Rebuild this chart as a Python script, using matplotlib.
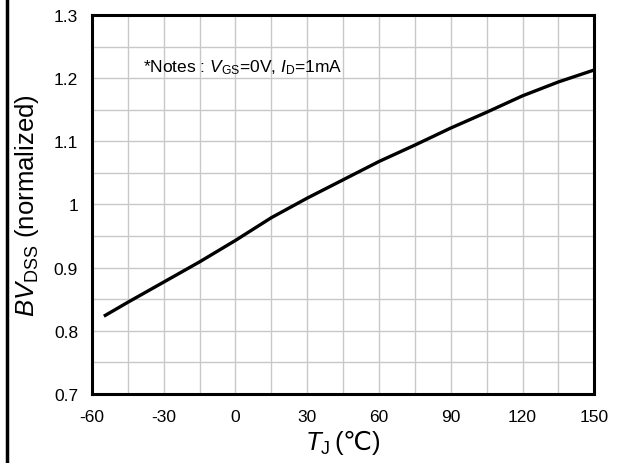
import matplotlib as mpl
import matplotlib.pyplot as plt
from matplotlib.lines import Line2D
from matplotlib.ticker import MultipleLocator, FormatStrFormatter
import numpy as np

# BVdss normalizado frente a temperatura de union
tj = [-55, -45, -30, -15, 0, 15, 30, 45, 60, 75, 90, 105, 120, 135, 150]
bv = [0.823, 0.845, 0.877, 0.909, 0.943, 0.979, 1.010, 1.039, 1.068,
      1.094, 1.121, 1.146, 1.172, 1.194, 1.213]

xticks = [-60, -30, 0, 30, 60, 90, 120, 150]
yticks = [0.7, 0.8, 0.9, 1.0, 1.1, 1.2, 1.3]

params = {'font.family': ['Liberation Sans', 'DejaVu Sans'],
          'mathtext.fontset': 'custom',
          'mathtext.rm': 'Liberation Sans',
          'mathtext.it': 'Liberation Sans:italic',
          'mathtext.sf': 'DejaVu Sans',  # para el simbolo de grados
          'axes.unicode_minus': False,
          'xtick.labelsize': 12.5, 'ytick.labelsize': 12.5}
mpl.rcParams.update(params)

fig = plt.figure(figsize=(6.21, 4.64), dpi=100)
ax = fig.add_axes((0.148, 0.149, 0.957 - 0.148, 0.9655 - 0.149))

ax.plot(tj, bv, '-', color='black', linewidth=2.4, solid_capstyle='butt', zorder=3)

ax.set_xlim(-60, 150)
ax.set_ylim(0.7, 1.3)
ax.set_xticks(xticks)
ax.set_yticks(yticks)
ax.xaxis.set_minor_locator(MultipleLocator(15))
ax.yaxis.set_minor_locator(MultipleLocator(0.05))
ax.yaxis.set_major_formatter(FormatStrFormatter('%g'))
ax.grid(which='both', color='#c8c8c8', linewidth=1.0)
ax.set_axisbelow(True)
ax.tick_params(which='both', length=0)
ax.tick_params(axis='x', pad=11)
ax.tick_params(axis='y', pad=10)
for s in ax.spines.values():
    s.set_linewidth(2.2)

ax.set_xlabel(r'$T_{\mathrm{J}}\,\mathrm{(}\mathsf{℃}\mathrm{)}$', fontsize=18.5, labelpad=2)
ax.set_ylabel(r'$BV_{\mathrm{DSS}}$ (normalized)', fontsize=18.5, labelpad=9)

ax.text(-38.7, 1.218, r'*Notes : $V_{\mathrm{GS}}$=0V, $I_{\mathrm{D}}$=1mA',
        fontsize=12.5, va='center', ha='left')

# linea vertical a la izquierda
fig.add_artist(Line2D([0.0105, 0.0105], [0, 1], color='black', linewidth=2.5,
                      transform=fig.transFigure))

fig.savefig('out.png', dpi=100)
